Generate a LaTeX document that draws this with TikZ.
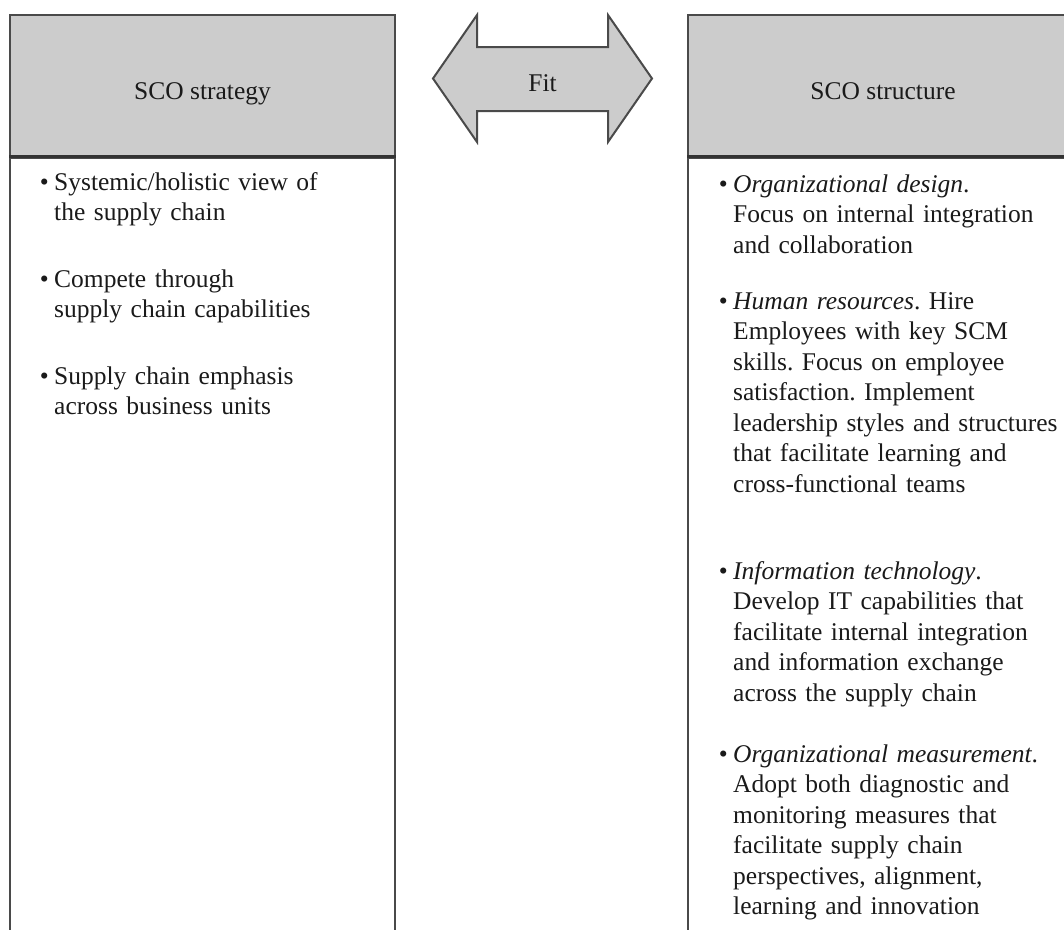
\documentclass[tikz,border=0pt]{standalone}
\usepackage{fontspec}
\setmainfont{Liberation Serif}
\definecolor{hdrgray}{HTML}{CCCCCC}
\definecolor{edgegray}{HTML}{4A4A4A}
\definecolor{divgray}{HTML}{333333}
\definecolor{inkcol}{HTML}{1A1A1A}
\begin{document}
\frenchspacing
\begin{tikzpicture}[x=1pt,y=-1pt,
  txtfont/.style={font=\fontsize{25.5}{30.5}\selectfont\frenchspacing, text=inkcol},
  hdrbox/.style={draw=edgegray, line width=2pt, fill=hdrgray, inner sep=0pt, minimum height=141pt},
  bodybox/.style={draw=edgegray, line width=2pt, fill=white, inner sep=0pt, minimum height=800pt},
  hdrtext/.style={txtfont, anchor=base, inner sep=0pt},
  itemtext/.style={txtfont, anchor=base west, align=left, text width=360pt, inner sep=0pt},
  fitarrow/.style={draw=edgegray, line width=2pt, fill=hdrgray, line join=miter},
  divider/.style={draw=divgray, line width=2.5pt}
]
\useasboundingbox (0,0) rectangle (1064,929);
\clip (0,0) rectangle (1064,929);

% left column
\node[hdrbox, minimum width=385pt] (lhdr) at (202.5,85) {};
\node[bodybox, minimum width=385pt, anchor=north] (lbody) at (lhdr.south) {};
\draw[divider] (lhdr.south west) -- (lhdr.south east);
\node[hdrtext] (lhdrtxt) at (202.5,99.5) {SCO strategy};

% right column
\node[hdrbox, minimum width=390pt] (rhdr) at (883,85) {};
\node[bodybox, minimum width=390pt, anchor=north] (rbody) at (rhdr.south) {};
\draw[divider] (rhdr.south west) -- (rhdr.south east);
\node[hdrtext] (rhdrtxt) at (883,99.5) {SCO structure};

% fit arrow
\draw[fitarrow] (433,78.5) -- (477,15) -- (477,47) -- (608,47) -- (608,15)
  -- (652,78.5) -- (608,142) -- (608,111) -- (477,111) -- (477,142) -- cycle;
\node[hdrtext] (fit) at (542.5,91) {Fit};

% left items
\node[itemtext] (l1) at (54,190) {\llap{\textbullet\hspace{5.5pt}}Systemic/holistic view of\\the supply chain};
\node[itemtext] (l2) at (54,287) {\llap{\textbullet\hspace{5.5pt}}Compete through\\supply chain capabilities};
\node[itemtext] (l3) at (54,384) {\llap{\textbullet\hspace{5.5pt}}Supply chain emphasis\\across business units};

% right items
\node[itemtext] (r1) at (733,192) {\llap{\textbullet\hspace{5.5pt}}\textit{Organizational design}.\\Focus on internal integration\\and collaboration};
\node[itemtext] (r2) at (733,309) {\llap{\textbullet\hspace{5.5pt}}\textit{Human resources}. Hire\\Employees with key SCM\\skills. Focus on employee\\satisfaction. Implement\\leadership styles and structures\\that facilitate learning and\\cross-functional teams};
\node[itemtext] (r3) at (733,579) {\llap{\textbullet\hspace{5.5pt}}\textit{Information technology}.\\Develop IT capabilities that\\facilitate internal integration\\and information exchange\\across the supply chain};
\node[itemtext] (r4) at (733,762) {\llap{\textbullet\hspace{5.5pt}}\textit{Organizational measurement}.\\Adopt both diagnostic and\\monitoring measures that\\facilitate supply chain\\perspectives, alignment,\\learning and innovation};
\end{tikzpicture}
\end{document}
